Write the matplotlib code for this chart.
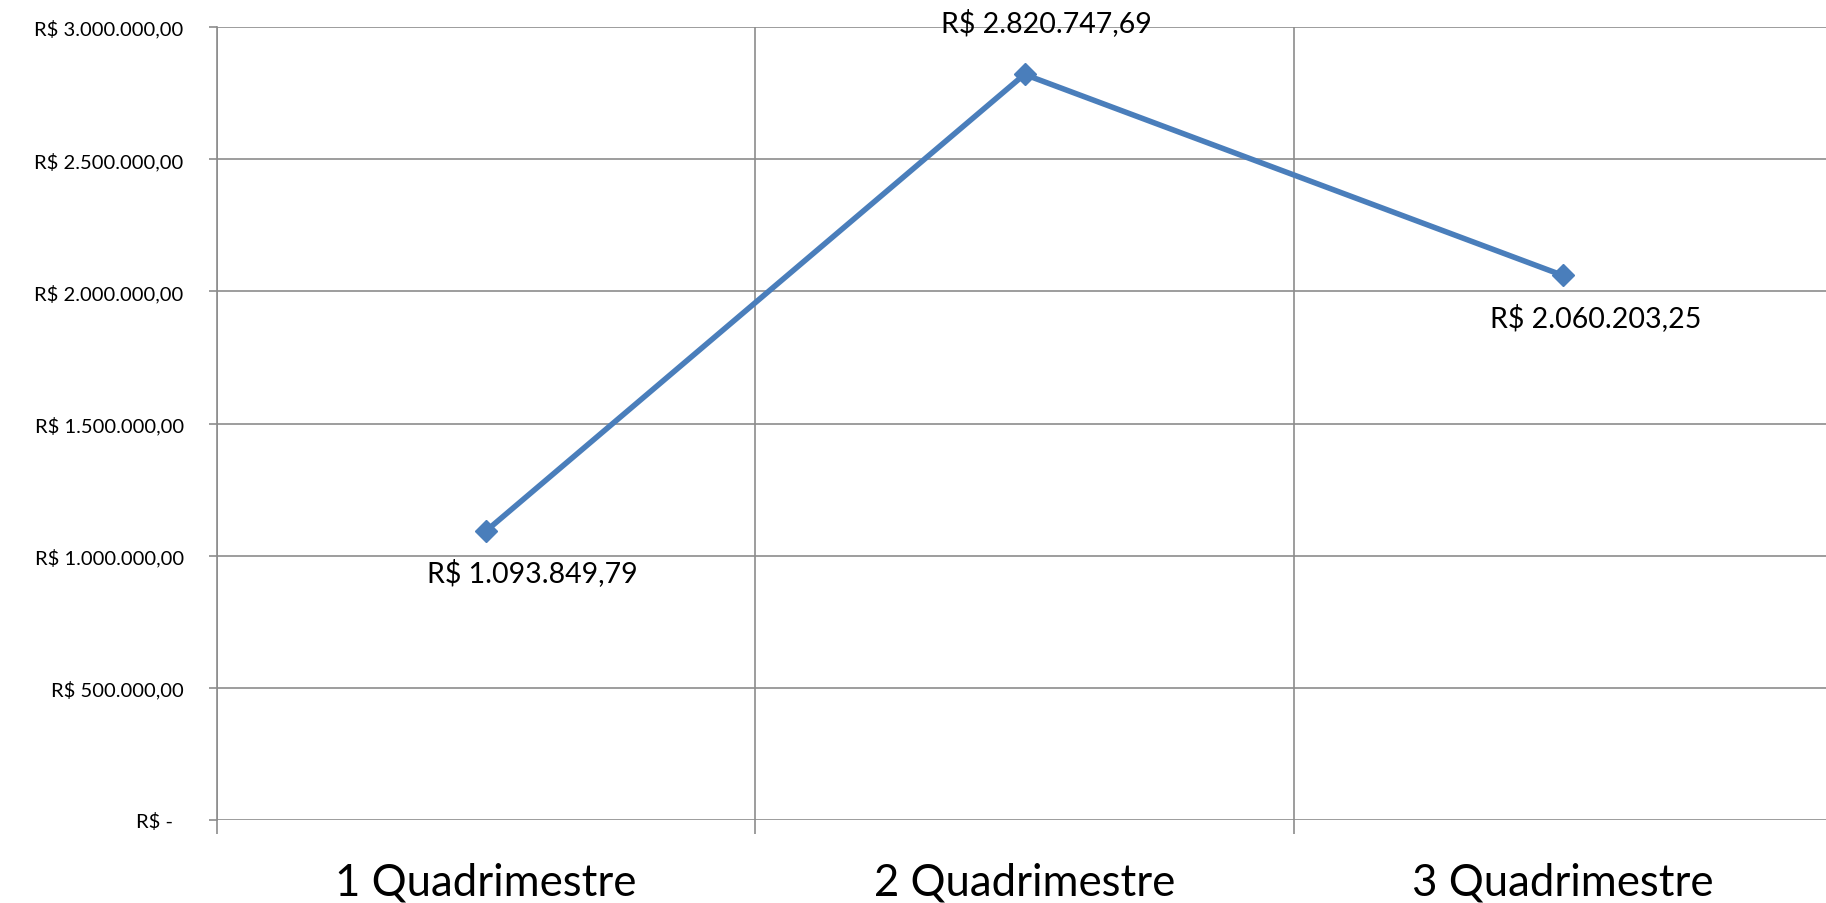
import matplotlib.pyplot as plt
from matplotlib.ticker import FixedLocator, FixedFormatter

categories = ["1 Quadrimestre", "2 Quadrimestre", "3 Quadrimestre"]
values = [1093849.79, 2820747.69, 2060203.25]
value_labels = ["R$ 1.093.849,79", "R$ 2.820.747,69", "R$ 2.060.203,25"]
y_ticks = [0, 500000, 1000000, 1500000, 2000000, 2500000, 3000000]
y_tick_labels = ["R$ -  ", "R$ 500.000,00", "R$ 1.000.000,00", "R$ 1.500.000,00",
                 "R$ 2.000.000,00", "R$ 2.500.000,00", "R$ 3.000.000,00"]

plt.rcParams["font.family"] = ["Lato", "DejaVu Sans"]

LINE = "#4a7ebb"
GRID = "#8c8c8c"

fig = plt.figure(figsize=(18.26, 9.04), dpi=100)
ax = fig.add_axes([217 / 1826, 1 - 821 / 904, (1832 - 217) / 1826, (821 - 28) / 904])

x = [i + 0.5 for i in range(len(categories))]
ax.plot(x, values, color=LINE, lw=4, marker="D", ms=11, mfc=LINE, mec=LINE,
        solid_capstyle="round", zorder=3, clip_on=False)

# data labels (nudged like the original)
offsets = [(33, -30), (16, 38), (24, -30)]
for xi, v, lab, off in zip(x, values, value_labels, offsets):
    ax.annotate(lab, (xi, v), xytext=off, textcoords="offset points",
                ha="center", va="center", fontsize=20.5, color="black")

ax.set_xlim(0, len(categories))
ax.set_ylim(0, 3000000)

# y axis
ax.yaxis.set_major_locator(FixedLocator(y_ticks))
ax.yaxis.set_major_formatter(FixedFormatter(y_tick_labels))
ax.tick_params(axis="y", length=6, width=1.2, color=GRID, labelsize=14.5, pad=18)

# x axis: gridlines on category borders, labels at centres
ax.xaxis.set_major_locator(FixedLocator(range(len(categories) + 1)))
ax.xaxis.set_major_formatter(FixedFormatter([""] * (len(categories) + 1)))
ax.xaxis.set_minor_locator(FixedLocator(x))
ax.xaxis.set_minor_formatter(FixedFormatter(categories))
ax.tick_params(axis="x", which="major", length=10, width=1.2, color=GRID)
ax.tick_params(axis="x", which="minor", length=0, labelsize=31.5, pad=30)

ax.grid(True, which="major", color=GRID, lw=1.2)
ax.set_axisbelow(True)
for side in ["top", "right", "bottom"]:
    ax.spines[side].set_visible(False)
ax.spines["left"].set_color(GRID)
ax.spines["left"].set_linewidth(1.2)

fig.savefig("out.png", dpi=100)
